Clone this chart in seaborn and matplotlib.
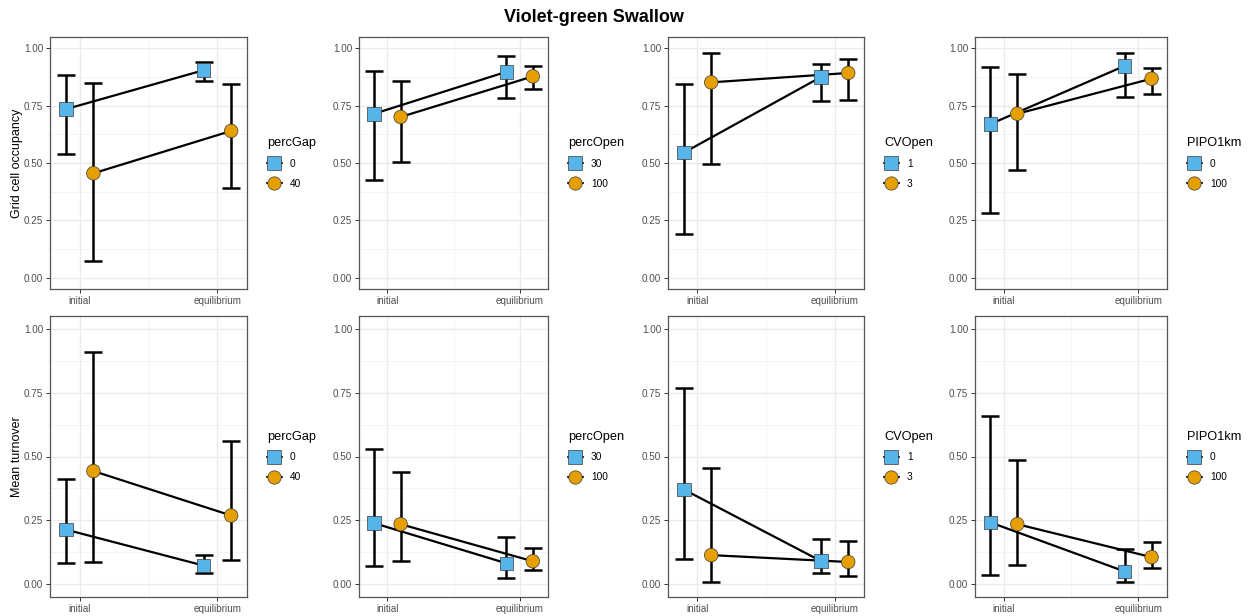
import matplotlib
matplotlib.use("Agg")
import numpy as np
import pandas as pd
import seaborn as sns
import matplotlib.pyplot as plt
from matplotlib.lines import Line2D

# ---- data -------------------------------------------------------------
periods = ["initial", "equilibrium"]
factors = ["percGap", "percOpen", "CVOpen", "PIPO1km"]
levels = [["0", "40"], ["30", "100"], ["1", "3"], ["0", "100"]]

# [factor][level][period]
occ_mean = [
    [[0.735, 0.905], [0.455, 0.640]],
    [[0.715, 0.898], [0.701, 0.878]],
    [[0.545, 0.875], [0.852, 0.893]],
    [[0.670, 0.924], [0.715, 0.868]],
]
occ_lower = [
    [[0.538, 0.860], [0.074, 0.390]],
    [[0.426, 0.785], [0.503, 0.824]],
    [[0.191, 0.769], [0.495, 0.775]],
    [[0.282, 0.786], [0.470, 0.800]],
]
occ_upper = [
    [[0.882, 0.941], [0.851, 0.843]],
    [[0.900, 0.966], [0.859, 0.922]],
    [[0.843, 0.932], [0.981, 0.956]],
    [[0.919, 0.979], [0.887, 0.916]],
]
turn_mean = [
    [[0.214, 0.073], [0.443, 0.269]],
    [[0.239, 0.082], [0.235, 0.090]],
    [[0.371, 0.091], [0.114, 0.087]],
    [[0.242, 0.050], [0.235, 0.106]],
]
turn_lower = [
    [[0.082, 0.042], [0.087, 0.095]],
    [[0.072, 0.026], [0.092, 0.055]],
    [[0.100, 0.044], [0.010, 0.031]],
    [[0.037, 0.010], [0.076, 0.063]],
]
turn_upper = [
    [[0.411, 0.114], [0.909, 0.559]],
    [[0.531, 0.184], [0.440, 0.141]],
    [[0.770, 0.179], [0.454, 0.170]],
    [[0.659, 0.138], [0.486, 0.164]],
]

row_titles = ["Grid cell occupancy", "Mean turnover"]
title = "Violet-green Swallow"

# ---- style ------------------------------------------------------------
sns.set_theme(style="white")
plt.rcParams["font.family"] = ["Liberation Sans", "DejaVu Sans"]
plt.rcParams["text.color"] = "black"
plt.rcParams["axes.labelcolor"] = "black"

level_colors = ["#56B4E9", "#E69F00"]
level_markers = ["s", "o"]
dodge = 0.1

W, H = 1250, 616
fig = plt.figure(figsize=(W / 100, H / 100), dpi=100)

col_px = [(50, 247), (359, 548), (668, 864), (975, 1167)]
row_px = [(37, 289), (316, 597)]

rows = [
    (occ_mean, occ_lower, occ_upper),
    (turn_mean, turn_lower, turn_upper),
]


def panel_frame(fi, mean, lower, upper):
    recs = []
    for li, lvl in enumerate(levels[fi]):
        off = -dodge if li == 0 else dodge
        for pi, per in enumerate(periods):
            recs.append(dict(period=per, level=lvl, x=pi + off,
                             mean=mean[fi][li][pi],
                             lo=lower[fi][li][pi],
                             hi=upper[fi][li][pi]))
    return pd.DataFrame(recs)


for ri, (mean, lower, upper) in enumerate(rows):
    top, bot = row_px[ri]
    for fi, factor in enumerate(factors):
        left, right = col_px[fi]
        ax = fig.add_axes([left / W, 1 - bot / H, (right - left) / W, (bot - top) / H])
        df = panel_frame(fi, mean, lower, upper)
        lv = levels[fi]
        pal = {lv[0]: level_colors[0], lv[1]: level_colors[1]}
        mk = {lv[0]: level_markers[0], lv[1]: level_markers[1]}

        # connecting lines between periods
        sns.lineplot(data=df, x="x", y="mean", units="level", estimator=None,
                     color="black", lw=1.6, sort=True, ax=ax, zorder=2)
        # error bars
        ax.errorbar(df["x"], df["mean"],
                    yerr=[df["mean"] - df["lo"], df["hi"] - df["mean"]],
                    fmt="none", ecolor="black", elinewidth=1.8,
                    capsize=6.5, capthick=1.8, zorder=2.5)
        # points
        sns.scatterplot(data=df, x="x", y="mean", hue="level", style="level",
                        palette=pal, markers=mk, s=95, edgecolor="#3a3a3a",
                        linewidth=0.5, legend=False, ax=ax, zorder=3)

        ax.set_xlim(-0.215, 1.215)
        ax.set_ylim(-0.05, 1.05)
        ax.set_xticks([0, 1])
        ax.set_xticklabels(periods)
        ax.set_xticks([0.5], minor=True)
        ax.set_yticks([0, 0.25, 0.5, 0.75, 1.0])
        ax.set_yticklabels(["0.00", "0.25", "0.50", "0.75", "1.00"])
        ax.set_yticks([0.125, 0.375, 0.625, 0.875], minor=True)
        ax.grid(which="major", color="#EBEBEB", lw=1.0, zorder=0)
        ax.grid(which="minor", color="#F2F2F2", lw=0.6, zorder=0)
        ax.set_axisbelow(True)
        ax.tick_params(which="major", length=3, width=0.7, color="#333333",
                       labelsize=7.1, labelcolor="#4D4D4D", pad=2,
                       left=True, bottom=True)
        ax.tick_params(which="minor", length=0)
        for sp in ax.spines.values():
            sp.set_color("#555555")
            sp.set_linewidth(0.9)
        ax.set_xlabel("")
        if fi == 0:
            ax.set_ylabel(row_titles[ri], fontsize=9, color="black", labelpad=0.5)
        else:
            ax.set_ylabel("")

        handles = [
            Line2D([], [], color="black", lw=1.5, marker=level_markers[k],
                   markersize=9.6, markerfacecolor=level_colors[k],
                   markeredgecolor="#3a3a3a", markeredgewidth=0.5)
            for k in range(2)
        ]
        leg = ax.legend(handles, lv, title=factor, loc="center left",
                        bbox_to_anchor=(1 + 20 / (right - left), 0.5),
                        frameon=False, fontsize=7.3, title_fontsize=9.2,
                        handlelength=1.45, handletextpad=0.8,
                        labelspacing=0.95, borderpad=0, borderaxespad=0,
                        alignment="left")
        for t in leg.get_texts():
            t.set_color("black")
        leg.get_title().set_color("black")

fig.text(594 / W, 1 - 17 / H, title, ha="center", va="center",
         fontsize=13, fontweight="bold", color="black")

fig.savefig("out.png", dpi=100, facecolor="white")
